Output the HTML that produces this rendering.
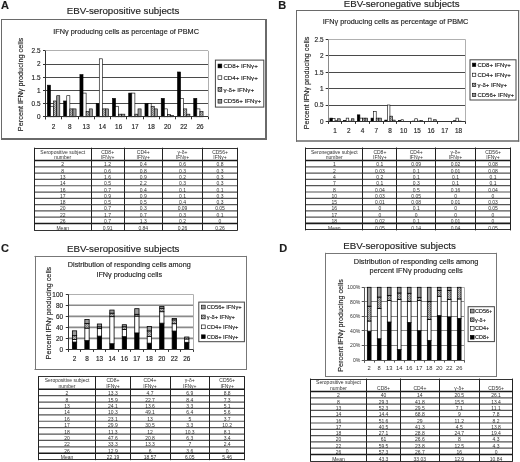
<!DOCTYPE html>
<html><head><meta charset="utf-8"><title>Figure</title>
<style>
html,body{margin:0;padding:0;background:#fff;}
body{width:520px;height:462px;overflow:hidden;}
svg{display:block;font-family:"Liberation Sans", sans-serif;filter:blur(0.3px);}
text{stroke:#222;stroke-width:0.15px;fill:#1e1e1e;}
text.tb{stroke:none;fill:#333;}
text.lt{stroke:none;fill:#333;}
</style></head><body>
<svg width="520" height="462" viewBox="0 0 520 462" font-family='Liberation Sans, sans-serif' fill="#000">
<defs>
<pattern id="gd" width="2" height="2" patternUnits="userSpaceOnUse">
<rect width="2" height="2" fill="#b8b8b8"/>
<rect width="1" height="1" fill="#7a7a7a"/>
<rect x="1" y="1" width="1" height="1" fill="#8c8c8c"/>
</pattern>
</defs>
<rect x="0" y="0" width="520" height="462" fill="#fff"/>
<text x="1" y="9.2" font-size="11" font-weight="bold">A</text>
<text x="123" y="14.1" font-size="9.74" text-anchor="middle">EBV-seropositive subjects</text>
<rect x="1.5" y="19.5" width="265.5" height="120.5" fill="#fff"/>
<line x1="1.5" y1="19" x2="1.5" y2="140" stroke="#6a6a6a" stroke-width="1"/>
<line x1="1" y1="19.5" x2="267" y2="19.5" stroke="#6a6a6a" stroke-width="1"/>
<line x1="266" y1="19" x2="266" y2="140" stroke="#6a6a6a" stroke-width="2"/>
<line x1="1" y1="139" x2="267" y2="139" stroke="#6a6a6a" stroke-width="2"/>
<text x="126.15" y="34.3" font-size="7.3" text-anchor="middle">IFNγ producing cells as percentage of PBMC</text>
<line x1="43" y1="116.5" x2="45.5" y2="116.5" stroke="#333" stroke-width="1"/>
<text x="40.5" y="119.1" font-size="6.4" text-anchor="end">0</text>
<line x1="45.5" y1="103.5" x2="208.1" y2="103.5" stroke="#4a4a4a" stroke-width="1"/>
<line x1="43" y1="103.5" x2="45.5" y2="103.5" stroke="#333" stroke-width="1"/>
<text x="40.5" y="105.92" font-size="6.4" text-anchor="end">0.5</text>
<line x1="45.5" y1="90.5" x2="208.1" y2="90.5" stroke="#4a4a4a" stroke-width="1"/>
<line x1="43" y1="90.5" x2="45.5" y2="90.5" stroke="#333" stroke-width="1"/>
<text x="40.5" y="92.74" font-size="6.4" text-anchor="end">1</text>
<line x1="45.5" y1="77.5" x2="208.1" y2="77.5" stroke="#4a4a4a" stroke-width="1"/>
<line x1="43" y1="77.5" x2="45.5" y2="77.5" stroke="#333" stroke-width="1"/>
<text x="40.5" y="79.56" font-size="6.4" text-anchor="end">1.5</text>
<line x1="45.5" y1="64.5" x2="208.1" y2="64.5" stroke="#4a4a4a" stroke-width="1"/>
<line x1="43" y1="64.5" x2="45.5" y2="64.5" stroke="#333" stroke-width="1"/>
<text x="40.5" y="66.38" font-size="6.4" text-anchor="end">2</text>
<line x1="45.5" y1="50.5" x2="208.1" y2="50.5" stroke="#b0b0b0" stroke-width="1"/>
<line x1="43" y1="50.5" x2="45.5" y2="50.5" stroke="#333" stroke-width="1"/>
<text x="40.5" y="53.2" font-size="6.4" text-anchor="end">2.5</text>
<line x1="208.5" y1="50.9" x2="208.5" y2="116.8" stroke="#b0b0b0" stroke-width="1"/>
<rect x="47.4" y="85.17" width="3.1" height="31.63" fill="#000" stroke="#000" stroke-width="0.6"/>
<rect x="50.5" y="106.26" width="3.1" height="10.54" fill="#fff" stroke="#000" stroke-width="0.6"/>
<rect x="53.6" y="100.98" width="3.1" height="15.82" fill="url(#gd)" stroke="#000" stroke-width="0.6"/>
<rect x="56.7" y="95.71" width="3.1" height="21.09" fill="#9a9a9a" stroke="#000" stroke-width="0.6"/>
<rect x="63.66" y="100.98" width="3.1" height="15.82" fill="#000" stroke="#000" stroke-width="0.6"/>
<rect x="66.76" y="95.71" width="3.1" height="21.09" fill="#fff" stroke="#000" stroke-width="0.6"/>
<rect x="69.86" y="108.89" width="3.1" height="7.91" fill="url(#gd)" stroke="#000" stroke-width="0.6"/>
<rect x="72.96" y="108.89" width="3.1" height="7.91" fill="#9a9a9a" stroke="#000" stroke-width="0.6"/>
<rect x="79.92" y="74.62" width="3.1" height="42.18" fill="#000" stroke="#000" stroke-width="0.6"/>
<rect x="83.02" y="93.08" width="3.1" height="23.72" fill="#fff" stroke="#000" stroke-width="0.6"/>
<rect x="86.12" y="111.53" width="3.1" height="5.27" fill="url(#gd)" stroke="#000" stroke-width="0.6"/>
<rect x="89.22" y="108.89" width="3.1" height="7.91" fill="#9a9a9a" stroke="#000" stroke-width="0.6"/>
<rect x="96.18" y="103.62" width="3.1" height="13.18" fill="#000" stroke="#000" stroke-width="0.6"/>
<rect x="99.28" y="58.81" width="3.1" height="57.99" fill="#fff" stroke="#000" stroke-width="0.6"/>
<rect x="102.38" y="108.89" width="3.1" height="7.91" fill="url(#gd)" stroke="#000" stroke-width="0.6"/>
<rect x="105.48" y="108.89" width="3.1" height="7.91" fill="#9a9a9a" stroke="#000" stroke-width="0.6"/>
<rect x="112.44" y="98.35" width="3.1" height="18.45" fill="#000" stroke="#000" stroke-width="0.6"/>
<rect x="115.54" y="106.26" width="3.1" height="10.54" fill="#fff" stroke="#000" stroke-width="0.6"/>
<rect x="118.64" y="114.16" width="3.1" height="2.64" fill="url(#gd)" stroke="#000" stroke-width="0.6"/>
<rect x="121.74" y="114.16" width="3.1" height="2.64" fill="#9a9a9a" stroke="#000" stroke-width="0.6"/>
<rect x="128.7" y="93.08" width="3.1" height="23.72" fill="#000" stroke="#000" stroke-width="0.6"/>
<rect x="131.8" y="93.08" width="3.1" height="23.72" fill="#fff" stroke="#000" stroke-width="0.6"/>
<rect x="134.9" y="114.16" width="3.1" height="2.64" fill="url(#gd)" stroke="#000" stroke-width="0.6"/>
<rect x="138" y="108.89" width="3.1" height="7.91" fill="#9a9a9a" stroke="#000" stroke-width="0.6"/>
<rect x="144.96" y="103.62" width="3.1" height="13.18" fill="#000" stroke="#000" stroke-width="0.6"/>
<rect x="148.06" y="103.62" width="3.1" height="13.18" fill="#fff" stroke="#000" stroke-width="0.6"/>
<rect x="151.16" y="106.26" width="3.1" height="10.54" fill="url(#gd)" stroke="#000" stroke-width="0.6"/>
<rect x="154.26" y="108.89" width="3.1" height="7.91" fill="#9a9a9a" stroke="#000" stroke-width="0.6"/>
<rect x="161.22" y="98.35" width="3.1" height="18.45" fill="#000" stroke="#000" stroke-width="0.6"/>
<rect x="164.32" y="108.89" width="3.1" height="7.91" fill="#fff" stroke="#000" stroke-width="0.6"/>
<rect x="167.42" y="114.43" width="3.1" height="2.37" fill="url(#gd)" stroke="#000" stroke-width="0.6"/>
<rect x="170.52" y="115.48" width="3.1" height="1.32" fill="#9a9a9a" stroke="#000" stroke-width="0.6"/>
<rect x="177.48" y="71.99" width="3.1" height="44.81" fill="#000" stroke="#000" stroke-width="0.6"/>
<rect x="180.58" y="98.35" width="3.1" height="18.45" fill="#fff" stroke="#000" stroke-width="0.6"/>
<rect x="183.68" y="108.89" width="3.1" height="7.91" fill="url(#gd)" stroke="#000" stroke-width="0.6"/>
<rect x="186.78" y="114.16" width="3.1" height="2.64" fill="#9a9a9a" stroke="#000" stroke-width="0.6"/>
<rect x="193.74" y="98.35" width="3.1" height="18.45" fill="#000" stroke="#000" stroke-width="0.6"/>
<rect x="196.84" y="108.89" width="3.1" height="7.91" fill="#fff" stroke="#000" stroke-width="0.6"/>
<rect x="199.94" y="111.53" width="3.1" height="5.27" fill="url(#gd)" stroke="#000" stroke-width="0.6"/>
<line x1="45.5" y1="50.9" x2="45.5" y2="119.3" stroke="#333" stroke-width="1"/>
<line x1="45.5" y1="116.5" x2="208.1" y2="116.5" stroke="#333" stroke-width="1"/>
<line x1="45.5" y1="116.8" x2="45.5" y2="119.3" stroke="#333" stroke-width="1"/>
<line x1="61.5" y1="116.8" x2="61.5" y2="119.3" stroke="#333" stroke-width="1"/>
<line x1="78.5" y1="116.8" x2="78.5" y2="119.3" stroke="#333" stroke-width="1"/>
<line x1="94.5" y1="116.8" x2="94.5" y2="119.3" stroke="#333" stroke-width="1"/>
<line x1="110.5" y1="116.8" x2="110.5" y2="119.3" stroke="#333" stroke-width="1"/>
<line x1="126.5" y1="116.8" x2="126.5" y2="119.3" stroke="#333" stroke-width="1"/>
<line x1="143.5" y1="116.8" x2="143.5" y2="119.3" stroke="#333" stroke-width="1"/>
<line x1="159.5" y1="116.8" x2="159.5" y2="119.3" stroke="#333" stroke-width="1"/>
<line x1="175.5" y1="116.8" x2="175.5" y2="119.3" stroke="#333" stroke-width="1"/>
<line x1="191.5" y1="116.8" x2="191.5" y2="119.3" stroke="#333" stroke-width="1"/>
<line x1="208.5" y1="116.8" x2="208.5" y2="119.3" stroke="#333" stroke-width="1"/>
<text x="53.63" y="128.8" font-size="6.4" text-anchor="middle">2</text>
<text x="69.89" y="128.8" font-size="6.4" text-anchor="middle">8</text>
<text x="86.15" y="128.8" font-size="6.4" text-anchor="middle">13</text>
<text x="102.41" y="128.8" font-size="6.4" text-anchor="middle">14</text>
<text x="118.67" y="128.8" font-size="6.4" text-anchor="middle">16</text>
<text x="134.93" y="128.8" font-size="6.4" text-anchor="middle">17</text>
<text x="151.19" y="128.8" font-size="6.4" text-anchor="middle">18</text>
<text x="167.45" y="128.8" font-size="6.4" text-anchor="middle">20</text>
<text x="183.71" y="128.8" font-size="6.4" text-anchor="middle">22</text>
<text x="199.97" y="128.8" font-size="6.4" text-anchor="middle">26</text>
<text x="22.8" y="84.5" font-size="7.3" text-anchor="middle" transform="rotate(-90 22.8 84.5)">Percent IFNγ producing cells</text>
<rect x="215.4" y="60.1" width="48.4" height="47" fill="#fff" stroke="#444" stroke-width="1"/>
<rect x="218" y="64.07" width="3.8" height="3.8" fill="#000" stroke="#000" stroke-width="0.6"/>
<text x="223.4" y="68.21" font-size="6.2">CD8+ IFNγ+</text>
<rect x="218" y="75.82" width="3.8" height="3.8" fill="#fff" stroke="#000" stroke-width="0.6"/>
<text x="223.4" y="79.96" font-size="6.2">CD4+ IFNγ+</text>
<rect x="218" y="87.57" width="3.8" height="3.8" fill="url(#gd)" stroke="#000" stroke-width="0.6"/>
<text x="223.4" y="91.71" font-size="6.2">γ-δ+ IFNγ+</text>
<rect x="218" y="99.32" width="3.8" height="3.8" fill="#9a9a9a" stroke="#000" stroke-width="0.6"/>
<text x="223.4" y="103.46" font-size="6.2">CD56+ IFNγ+</text>
<text x="278.3" y="9" font-size="11" font-weight="bold">B</text>
<text x="401.6" y="7.2" font-size="9.7" text-anchor="middle">EBV-seronegative subjects</text>
<rect x="296.6" y="10.5" width="222.6" height="131.3" fill="#fff"/>
<line x1="296.5" y1="10" x2="296.5" y2="141.8" stroke="#6a6a6a" stroke-width="1"/>
<line x1="296.1" y1="10.5" x2="519.2" y2="10.5" stroke="#6a6a6a" stroke-width="1"/>
<line x1="518.6" y1="10" x2="518.6" y2="141.8" stroke="#6a6a6a" stroke-width="1.2"/>
<line x1="296.1" y1="141" x2="519.2" y2="141" stroke="#6a6a6a" stroke-width="1.6"/>
<text x="395.6" y="23.6" font-size="7.3" text-anchor="middle">IFNγ producing cells as percentage of PBMC</text>
<line x1="325.7" y1="121.5" x2="328.2" y2="121.5" stroke="#333" stroke-width="1"/>
<text x="323.5" y="123.7" font-size="6.4" text-anchor="end">0</text>
<line x1="328.2" y1="105.5" x2="465.4" y2="105.5" stroke="#4a4a4a" stroke-width="1"/>
<line x1="325.7" y1="105.5" x2="328.2" y2="105.5" stroke="#333" stroke-width="1"/>
<text x="323.5" y="107.3" font-size="6.4" text-anchor="end">0.5</text>
<line x1="328.2" y1="88.5" x2="465.4" y2="88.5" stroke="#4a4a4a" stroke-width="1"/>
<line x1="325.7" y1="88.5" x2="328.2" y2="88.5" stroke="#333" stroke-width="1"/>
<text x="323.5" y="90.9" font-size="6.4" text-anchor="end">1</text>
<line x1="328.2" y1="72.5" x2="465.4" y2="72.5" stroke="#4a4a4a" stroke-width="1"/>
<line x1="325.7" y1="72.5" x2="328.2" y2="72.5" stroke="#333" stroke-width="1"/>
<text x="323.5" y="74.5" font-size="6.4" text-anchor="end">1.5</text>
<line x1="328.2" y1="55.5" x2="465.4" y2="55.5" stroke="#4a4a4a" stroke-width="1"/>
<line x1="325.7" y1="55.5" x2="328.2" y2="55.5" stroke="#333" stroke-width="1"/>
<text x="323.5" y="58.1" font-size="6.4" text-anchor="end">2</text>
<line x1="328.2" y1="39.5" x2="465.4" y2="39.5" stroke="#b0b0b0" stroke-width="1"/>
<line x1="325.7" y1="39.5" x2="328.2" y2="39.5" stroke="#333" stroke-width="1"/>
<text x="323.5" y="41.7" font-size="6.4" text-anchor="end">2.5</text>
<line x1="465.5" y1="39.4" x2="465.5" y2="121.4" stroke="#b0b0b0" stroke-width="1"/>
<rect x="329.85" y="118.12" width="2.6" height="3.28" fill="#000" stroke="#000" stroke-width="0.6"/>
<rect x="332.45" y="118.45" width="2.6" height="2.95" fill="#fff" stroke="#000" stroke-width="0.6"/>
<rect x="335.05" y="120.74" width="2.6" height="0.66" fill="url(#gd)" stroke="#000" stroke-width="0.6"/>
<rect x="337.65" y="118.78" width="2.6" height="2.62" fill="#9a9a9a" stroke="#000" stroke-width="0.6"/>
<rect x="343.57" y="120.42" width="2.6" height="0.98" fill="#000" stroke="#000" stroke-width="0.6"/>
<rect x="346.17" y="118.12" width="2.6" height="3.28" fill="#fff" stroke="#000" stroke-width="0.6"/>
<rect x="348.77" y="121.07" width="2.6" height="0.33" fill="url(#gd)" stroke="#000" stroke-width="0.6"/>
<rect x="351.37" y="118.78" width="2.6" height="2.62" fill="#9a9a9a" stroke="#000" stroke-width="0.6"/>
<rect x="357.29" y="114.84" width="2.6" height="6.56" fill="#000" stroke="#000" stroke-width="0.6"/>
<rect x="359.89" y="118.12" width="2.6" height="3.28" fill="#fff" stroke="#000" stroke-width="0.6"/>
<rect x="362.49" y="118.12" width="2.6" height="3.28" fill="url(#gd)" stroke="#000" stroke-width="0.6"/>
<rect x="365.09" y="118.12" width="2.6" height="3.28" fill="#9a9a9a" stroke="#000" stroke-width="0.6"/>
<rect x="371.01" y="118.12" width="2.6" height="3.28" fill="#000" stroke="#000" stroke-width="0.6"/>
<rect x="373.61" y="111.56" width="2.6" height="9.84" fill="#fff" stroke="#000" stroke-width="0.6"/>
<rect x="376.21" y="118.12" width="2.6" height="3.28" fill="url(#gd)" stroke="#000" stroke-width="0.6"/>
<rect x="378.81" y="118.12" width="2.6" height="3.28" fill="#9a9a9a" stroke="#000" stroke-width="0.6"/>
<rect x="384.73" y="120.09" width="2.6" height="1.31" fill="#000" stroke="#000" stroke-width="0.6"/>
<rect x="387.33" y="105" width="2.6" height="16.4" fill="#fff" stroke="#000" stroke-width="0.6"/>
<rect x="389.93" y="116.15" width="2.6" height="5.25" fill="url(#gd)" stroke="#000" stroke-width="0.6"/>
<rect x="392.53" y="120.09" width="2.6" height="1.31" fill="#9a9a9a" stroke="#000" stroke-width="0.6"/>
<rect x="398.45" y="120.42" width="2.6" height="0.98" fill="#000" stroke="#000" stroke-width="0.6"/>
<rect x="401.05" y="119.76" width="2.6" height="1.64" fill="#fff" stroke="#000" stroke-width="0.6"/>
<rect x="412.17" y="121.07" width="2.6" height="0.33" fill="#000" stroke="#000" stroke-width="0.6"/>
<rect x="414.77" y="118.78" width="2.6" height="2.62" fill="#fff" stroke="#000" stroke-width="0.6"/>
<rect x="417.37" y="121.07" width="2.6" height="0.33" fill="url(#gd)" stroke="#000" stroke-width="0.6"/>
<rect x="419.97" y="120.42" width="2.6" height="0.98" fill="#9a9a9a" stroke="#000" stroke-width="0.6"/>
<rect x="428.49" y="118.12" width="2.6" height="3.28" fill="#fff" stroke="#000" stroke-width="0.6"/>
<rect x="433.69" y="119.76" width="2.6" height="1.64" fill="#9a9a9a" stroke="#000" stroke-width="0.6"/>
<rect x="453.33" y="120.74" width="2.6" height="0.66" fill="#000" stroke="#000" stroke-width="0.6"/>
<rect x="455.93" y="118.12" width="2.6" height="3.28" fill="#fff" stroke="#000" stroke-width="0.6"/>
<rect x="458.53" y="121.07" width="2.6" height="0.33" fill="url(#gd)" stroke="#000" stroke-width="0.6"/>
<line x1="328.5" y1="39.4" x2="328.5" y2="123.9" stroke="#8a8a8a" stroke-width="1"/>
<line x1="328.2" y1="121.5" x2="465.4" y2="121.5" stroke="#333" stroke-width="1"/>
<line x1="328.5" y1="121.4" x2="328.5" y2="123.9" stroke="#333" stroke-width="1"/>
<line x1="341.5" y1="121.4" x2="341.5" y2="123.9" stroke="#333" stroke-width="1"/>
<line x1="355.5" y1="121.4" x2="355.5" y2="123.9" stroke="#333" stroke-width="1"/>
<line x1="369.5" y1="121.4" x2="369.5" y2="123.9" stroke="#333" stroke-width="1"/>
<line x1="383.5" y1="121.4" x2="383.5" y2="123.9" stroke="#333" stroke-width="1"/>
<line x1="396.5" y1="121.4" x2="396.5" y2="123.9" stroke="#333" stroke-width="1"/>
<line x1="410.5" y1="121.4" x2="410.5" y2="123.9" stroke="#333" stroke-width="1"/>
<line x1="424.5" y1="121.4" x2="424.5" y2="123.9" stroke="#333" stroke-width="1"/>
<line x1="437.5" y1="121.4" x2="437.5" y2="123.9" stroke="#333" stroke-width="1"/>
<line x1="451.5" y1="121.4" x2="451.5" y2="123.9" stroke="#333" stroke-width="1"/>
<line x1="465.5" y1="121.4" x2="465.5" y2="123.9" stroke="#333" stroke-width="1"/>
<text x="335.06" y="133.2" font-size="6.4" text-anchor="middle">1</text>
<text x="348.78" y="133.2" font-size="6.4" text-anchor="middle">2</text>
<text x="362.5" y="133.2" font-size="6.4" text-anchor="middle">4</text>
<text x="376.22" y="133.2" font-size="6.4" text-anchor="middle">7</text>
<text x="389.94" y="133.2" font-size="6.4" text-anchor="middle">8</text>
<text x="403.66" y="133.2" font-size="6.4" text-anchor="middle">10</text>
<text x="417.38" y="133.2" font-size="6.4" text-anchor="middle">15</text>
<text x="431.1" y="133.2" font-size="6.4" text-anchor="middle">16</text>
<text x="444.82" y="133.2" font-size="6.4" text-anchor="middle">17</text>
<text x="458.54" y="133.2" font-size="6.4" text-anchor="middle">18</text>
<text x="309.2" y="83" font-size="7.25" text-anchor="middle" transform="rotate(-90 309.2 83)">Percent IFNγ producing cells</text>
<rect x="470" y="59.8" width="46" height="40.2" fill="#fff" stroke="#444" stroke-width="1"/>
<rect x="472.4" y="63.12" width="3.4" height="3.4" fill="#000" stroke="#000" stroke-width="0.6"/>
<text x="477.4" y="66.98" font-size="6">CD8+ IFNγ+</text>
<rect x="472.4" y="73.17" width="3.4" height="3.4" fill="#fff" stroke="#000" stroke-width="0.6"/>
<text x="477.4" y="77.03" font-size="6">CD4+ IFNγ+</text>
<rect x="472.4" y="83.22" width="3.4" height="3.4" fill="url(#gd)" stroke="#000" stroke-width="0.6"/>
<text x="477.4" y="87.08" font-size="6">γ-δ+ IFNγ+</text>
<rect x="472.4" y="93.27" width="3.4" height="3.4" fill="#9a9a9a" stroke="#000" stroke-width="0.6"/>
<text x="477.4" y="97.13" font-size="6">CD56+ IFNγ+</text>
<rect x="34.2" y="147.7" width="203.3" height="82.8" fill="#fff"/>
<line x1="34.2" y1="148.5" x2="237.5" y2="148.5" stroke="#333" stroke-width="1"/>
<line x1="34.2" y1="160.6" x2="237.5" y2="160.6" stroke="#1a1a1a" stroke-width="1.5"/>
<line x1="34.2" y1="166.89" x2="237.5" y2="166.89" stroke="#555" stroke-width="1.2"/>
<line x1="34.2" y1="173.18" x2="237.5" y2="173.18" stroke="#555" stroke-width="1.2"/>
<line x1="34.2" y1="179.47" x2="237.5" y2="179.47" stroke="#555" stroke-width="1.2"/>
<line x1="34.2" y1="185.76" x2="237.5" y2="185.76" stroke="#555" stroke-width="1.2"/>
<line x1="34.2" y1="192.05" x2="237.5" y2="192.05" stroke="#555" stroke-width="1.2"/>
<line x1="34.2" y1="198.34" x2="237.5" y2="198.34" stroke="#555" stroke-width="1.2"/>
<line x1="34.2" y1="204.63" x2="237.5" y2="204.63" stroke="#555" stroke-width="1.2"/>
<line x1="34.2" y1="210.92" x2="237.5" y2="210.92" stroke="#555" stroke-width="1.2"/>
<line x1="34.2" y1="217.21" x2="237.5" y2="217.21" stroke="#555" stroke-width="1.2"/>
<line x1="34.2" y1="223.5" x2="237.5" y2="223.5" stroke="#1a1a1a" stroke-width="1.6"/>
<line x1="34.2" y1="230.5" x2="237.5" y2="230.5" stroke="#333" stroke-width="1"/>
<line x1="34.5" y1="147.7" x2="34.5" y2="230.5" stroke="#222" stroke-width="1"/>
<line x1="91.5" y1="147.7" x2="91.5" y2="230.5" stroke="#222" stroke-width="1"/>
<line x1="124.5" y1="147.7" x2="124.5" y2="230.5" stroke="#222" stroke-width="1"/>
<line x1="162.5" y1="147.7" x2="162.5" y2="230.5" stroke="#222" stroke-width="1"/>
<line x1="202.5" y1="147.7" x2="202.5" y2="230.5" stroke="#222" stroke-width="1"/>
<line x1="237.5" y1="147.7" x2="237.5" y2="230.5" stroke="#222" stroke-width="1"/>
<text x="62.7" y="153.7" font-size="5" text-anchor="middle" fill="#333" class="tb">Seropositive subject</text>
<text x="62.7" y="159.2" font-size="5" text-anchor="middle" fill="#333" class="tb">number</text>
<text x="107.6" y="153.7" font-size="5" text-anchor="middle" fill="#333" class="tb">CD8+</text>
<text x="107.6" y="159.2" font-size="5" text-anchor="middle" fill="#333" class="tb">IFNγ+</text>
<text x="143.25" y="153.7" font-size="5" text-anchor="middle" fill="#333" class="tb">CD4+</text>
<text x="143.25" y="159.2" font-size="5" text-anchor="middle" fill="#333" class="tb">IFNγ+</text>
<text x="182.5" y="153.7" font-size="5" text-anchor="middle" fill="#333" class="tb">γ-δ+</text>
<text x="182.5" y="159.2" font-size="5" text-anchor="middle" fill="#333" class="tb">IFNγ+</text>
<text x="220" y="153.7" font-size="5" text-anchor="middle" fill="#333" class="tb">CD56+</text>
<text x="220" y="159.2" font-size="5" text-anchor="middle" fill="#333" class="tb">IFNγ+</text>
<text x="62.7" y="166.39" font-size="5" text-anchor="middle" fill="#333" class="tb">2</text>
<text x="107.6" y="166.39" font-size="5" text-anchor="middle" fill="#333" class="tb">1.2</text>
<text x="143.25" y="166.39" font-size="5" text-anchor="middle" fill="#333" class="tb">0.4</text>
<text x="182.5" y="166.39" font-size="5" text-anchor="middle" fill="#333" class="tb">0.6</text>
<text x="220" y="166.39" font-size="5" text-anchor="middle" fill="#333" class="tb">0.8</text>
<text x="62.7" y="172.68" font-size="5" text-anchor="middle" fill="#333" class="tb">8</text>
<text x="107.6" y="172.68" font-size="5" text-anchor="middle" fill="#333" class="tb">0.6</text>
<text x="143.25" y="172.68" font-size="5" text-anchor="middle" fill="#333" class="tb">0.8</text>
<text x="182.5" y="172.68" font-size="5" text-anchor="middle" fill="#333" class="tb">0.3</text>
<text x="220" y="172.68" font-size="5" text-anchor="middle" fill="#333" class="tb">0.3</text>
<text x="62.7" y="178.97" font-size="5" text-anchor="middle" fill="#333" class="tb">13</text>
<text x="107.6" y="178.97" font-size="5" text-anchor="middle" fill="#333" class="tb">1.6</text>
<text x="143.25" y="178.97" font-size="5" text-anchor="middle" fill="#333" class="tb">0.9</text>
<text x="182.5" y="178.97" font-size="5" text-anchor="middle" fill="#333" class="tb">0.2</text>
<text x="220" y="178.97" font-size="5" text-anchor="middle" fill="#333" class="tb">0.3</text>
<text x="62.7" y="185.26" font-size="5" text-anchor="middle" fill="#333" class="tb">14</text>
<text x="107.6" y="185.26" font-size="5" text-anchor="middle" fill="#333" class="tb">0.5</text>
<text x="143.25" y="185.26" font-size="5" text-anchor="middle" fill="#333" class="tb">2.2</text>
<text x="182.5" y="185.26" font-size="5" text-anchor="middle" fill="#333" class="tb">0.3</text>
<text x="220" y="185.26" font-size="5" text-anchor="middle" fill="#333" class="tb">0.3</text>
<text x="62.7" y="191.55" font-size="5" text-anchor="middle" fill="#333" class="tb">16</text>
<text x="107.6" y="191.55" font-size="5" text-anchor="middle" fill="#333" class="tb">0.7</text>
<text x="143.25" y="191.55" font-size="5" text-anchor="middle" fill="#333" class="tb">0.4</text>
<text x="182.5" y="191.55" font-size="5" text-anchor="middle" fill="#333" class="tb">0.1</text>
<text x="220" y="191.55" font-size="5" text-anchor="middle" fill="#333" class="tb">0.1</text>
<text x="62.7" y="197.84" font-size="5" text-anchor="middle" fill="#333" class="tb">17</text>
<text x="107.6" y="197.84" font-size="5" text-anchor="middle" fill="#333" class="tb">0.9</text>
<text x="143.25" y="197.84" font-size="5" text-anchor="middle" fill="#333" class="tb">0.9</text>
<text x="182.5" y="197.84" font-size="5" text-anchor="middle" fill="#333" class="tb">0.1</text>
<text x="220" y="197.84" font-size="5" text-anchor="middle" fill="#333" class="tb">0.3</text>
<text x="62.7" y="204.13" font-size="5" text-anchor="middle" fill="#333" class="tb">18</text>
<text x="107.6" y="204.13" font-size="5" text-anchor="middle" fill="#333" class="tb">0.5</text>
<text x="143.25" y="204.13" font-size="5" text-anchor="middle" fill="#333" class="tb">0.5</text>
<text x="182.5" y="204.13" font-size="5" text-anchor="middle" fill="#333" class="tb">0.4</text>
<text x="220" y="204.13" font-size="5" text-anchor="middle" fill="#333" class="tb">0.3</text>
<text x="62.7" y="210.42" font-size="5" text-anchor="middle" fill="#333" class="tb">20</text>
<text x="107.6" y="210.42" font-size="5" text-anchor="middle" fill="#333" class="tb">0.7</text>
<text x="143.25" y="210.42" font-size="5" text-anchor="middle" fill="#333" class="tb">0.3</text>
<text x="182.5" y="210.42" font-size="5" text-anchor="middle" fill="#333" class="tb">0.09</text>
<text x="220" y="210.42" font-size="5" text-anchor="middle" fill="#333" class="tb">0.05</text>
<text x="62.7" y="216.71" font-size="5" text-anchor="middle" fill="#333" class="tb">22</text>
<text x="107.6" y="216.71" font-size="5" text-anchor="middle" fill="#333" class="tb">1.7</text>
<text x="143.25" y="216.71" font-size="5" text-anchor="middle" fill="#333" class="tb">0.7</text>
<text x="182.5" y="216.71" font-size="5" text-anchor="middle" fill="#333" class="tb">0.3</text>
<text x="220" y="216.71" font-size="5" text-anchor="middle" fill="#333" class="tb">0.1</text>
<text x="62.7" y="223" font-size="5" text-anchor="middle" fill="#333" class="tb">26</text>
<text x="107.6" y="223" font-size="5" text-anchor="middle" fill="#333" class="tb">0.7</text>
<text x="143.25" y="223" font-size="5" text-anchor="middle" fill="#333" class="tb">1.3</text>
<text x="182.5" y="223" font-size="5" text-anchor="middle" fill="#333" class="tb">0.2</text>
<text x="220" y="223" font-size="5" text-anchor="middle" fill="#333" class="tb">0</text>
<text x="62.7" y="229.6" font-size="5" text-anchor="middle" fill="#333" class="tb">Mean</text>
<text x="107.6" y="229.6" font-size="5" text-anchor="middle" fill="#333" class="tb">0.91</text>
<text x="143.25" y="229.6" font-size="5" text-anchor="middle" fill="#333" class="tb">0.84</text>
<text x="182.5" y="229.6" font-size="5" text-anchor="middle" fill="#333" class="tb">0.26</text>
<text x="220" y="229.6" font-size="5" text-anchor="middle" fill="#333" class="tb">0.26</text>
<rect x="305.8" y="147.5" width="204.6" height="82.9" fill="#fff"/>
<line x1="305.8" y1="148.5" x2="510.4" y2="148.5" stroke="#333" stroke-width="1"/>
<line x1="305.8" y1="160.6" x2="510.4" y2="160.6" stroke="#1a1a1a" stroke-width="1.5"/>
<line x1="305.8" y1="166.88" x2="510.4" y2="166.88" stroke="#555" stroke-width="1.2"/>
<line x1="305.8" y1="173.16" x2="510.4" y2="173.16" stroke="#555" stroke-width="1.2"/>
<line x1="305.8" y1="179.44" x2="510.4" y2="179.44" stroke="#555" stroke-width="1.2"/>
<line x1="305.8" y1="185.72" x2="510.4" y2="185.72" stroke="#555" stroke-width="1.2"/>
<line x1="305.8" y1="192" x2="510.4" y2="192" stroke="#555" stroke-width="1.2"/>
<line x1="305.8" y1="198.28" x2="510.4" y2="198.28" stroke="#555" stroke-width="1.2"/>
<line x1="305.8" y1="204.56" x2="510.4" y2="204.56" stroke="#555" stroke-width="1.2"/>
<line x1="305.8" y1="210.84" x2="510.4" y2="210.84" stroke="#555" stroke-width="1.2"/>
<line x1="305.8" y1="217.12" x2="510.4" y2="217.12" stroke="#555" stroke-width="1.2"/>
<line x1="305.8" y1="223.4" x2="510.4" y2="223.4" stroke="#1a1a1a" stroke-width="1.6"/>
<line x1="305.8" y1="229.5" x2="510.4" y2="229.5" stroke="#333" stroke-width="1"/>
<line x1="305.5" y1="147.5" x2="305.5" y2="230.4" stroke="#222" stroke-width="1"/>
<line x1="362.5" y1="147.5" x2="362.5" y2="230.4" stroke="#222" stroke-width="1"/>
<line x1="396.5" y1="147.5" x2="396.5" y2="230.4" stroke="#222" stroke-width="1"/>
<line x1="435.5" y1="147.5" x2="435.5" y2="230.4" stroke="#222" stroke-width="1"/>
<line x1="475.5" y1="147.5" x2="475.5" y2="230.4" stroke="#222" stroke-width="1"/>
<line x1="510.5" y1="147.5" x2="510.5" y2="230.4" stroke="#222" stroke-width="1"/>
<text x="334.3" y="153.5" font-size="5" text-anchor="middle" fill="#333" class="tb">Seronegative subject</text>
<text x="334.3" y="159" font-size="5" text-anchor="middle" fill="#333" class="tb">number</text>
<text x="379.85" y="153.5" font-size="5" text-anchor="middle" fill="#333" class="tb">CD8+</text>
<text x="379.85" y="159" font-size="5" text-anchor="middle" fill="#333" class="tb">IFNγ+</text>
<text x="416.2" y="153.5" font-size="5" text-anchor="middle" fill="#333" class="tb">CD4+</text>
<text x="416.2" y="159" font-size="5" text-anchor="middle" fill="#333" class="tb">IFNγ+</text>
<text x="455.55" y="153.5" font-size="5" text-anchor="middle" fill="#333" class="tb">γ-δ+</text>
<text x="455.55" y="159" font-size="5" text-anchor="middle" fill="#333" class="tb">IFNγ+</text>
<text x="493" y="153.5" font-size="5" text-anchor="middle" fill="#333" class="tb">CD56+</text>
<text x="493" y="159" font-size="5" text-anchor="middle" fill="#333" class="tb">IFNγ+</text>
<text x="334.3" y="166.38" font-size="5" text-anchor="middle" fill="#333" class="tb">1</text>
<text x="379.85" y="166.38" font-size="5" text-anchor="middle" fill="#333" class="tb">0.1</text>
<text x="416.2" y="166.38" font-size="5" text-anchor="middle" fill="#333" class="tb">0.09</text>
<text x="455.55" y="166.38" font-size="5" text-anchor="middle" fill="#333" class="tb">0.02</text>
<text x="493" y="166.38" font-size="5" text-anchor="middle" fill="#333" class="tb">0.08</text>
<text x="334.3" y="172.66" font-size="5" text-anchor="middle" fill="#333" class="tb">2</text>
<text x="379.85" y="172.66" font-size="5" text-anchor="middle" fill="#333" class="tb">0.03</text>
<text x="416.2" y="172.66" font-size="5" text-anchor="middle" fill="#333" class="tb">0.1</text>
<text x="455.55" y="172.66" font-size="5" text-anchor="middle" fill="#333" class="tb">0.01</text>
<text x="493" y="172.66" font-size="5" text-anchor="middle" fill="#333" class="tb">0.08</text>
<text x="334.3" y="178.94" font-size="5" text-anchor="middle" fill="#333" class="tb">4</text>
<text x="379.85" y="178.94" font-size="5" text-anchor="middle" fill="#333" class="tb">0.2</text>
<text x="416.2" y="178.94" font-size="5" text-anchor="middle" fill="#333" class="tb">0.1</text>
<text x="455.55" y="178.94" font-size="5" text-anchor="middle" fill="#333" class="tb">0.1</text>
<text x="493" y="178.94" font-size="5" text-anchor="middle" fill="#333" class="tb">0.1</text>
<text x="334.3" y="185.22" font-size="5" text-anchor="middle" fill="#333" class="tb">7</text>
<text x="379.85" y="185.22" font-size="5" text-anchor="middle" fill="#333" class="tb">0.1</text>
<text x="416.2" y="185.22" font-size="5" text-anchor="middle" fill="#333" class="tb">0.3</text>
<text x="455.55" y="185.22" font-size="5" text-anchor="middle" fill="#333" class="tb">0.1</text>
<text x="493" y="185.22" font-size="5" text-anchor="middle" fill="#333" class="tb">0.1</text>
<text x="334.3" y="191.5" font-size="5" text-anchor="middle" fill="#333" class="tb">8</text>
<text x="379.85" y="191.5" font-size="5" text-anchor="middle" fill="#333" class="tb">0.04</text>
<text x="416.2" y="191.5" font-size="5" text-anchor="middle" fill="#333" class="tb">0.5</text>
<text x="455.55" y="191.5" font-size="5" text-anchor="middle" fill="#333" class="tb">0.16</text>
<text x="493" y="191.5" font-size="5" text-anchor="middle" fill="#333" class="tb">0.04</text>
<text x="334.3" y="197.78" font-size="5" text-anchor="middle" fill="#333" class="tb">10</text>
<text x="379.85" y="197.78" font-size="5" text-anchor="middle" fill="#333" class="tb">0.03</text>
<text x="416.2" y="197.78" font-size="5" text-anchor="middle" fill="#333" class="tb">0.05</text>
<text x="455.55" y="197.78" font-size="5" text-anchor="middle" fill="#333" class="tb">0</text>
<text x="493" y="197.78" font-size="5" text-anchor="middle" fill="#333" class="tb">0</text>
<text x="334.3" y="204.06" font-size="5" text-anchor="middle" fill="#333" class="tb">15</text>
<text x="379.85" y="204.06" font-size="5" text-anchor="middle" fill="#333" class="tb">0.01</text>
<text x="416.2" y="204.06" font-size="5" text-anchor="middle" fill="#333" class="tb">0.08</text>
<text x="455.55" y="204.06" font-size="5" text-anchor="middle" fill="#333" class="tb">0.01</text>
<text x="493" y="204.06" font-size="5" text-anchor="middle" fill="#333" class="tb">0.03</text>
<text x="334.3" y="210.34" font-size="5" text-anchor="middle" fill="#333" class="tb">16</text>
<text x="379.85" y="210.34" font-size="5" text-anchor="middle" fill="#333" class="tb">0</text>
<text x="416.2" y="210.34" font-size="5" text-anchor="middle" fill="#333" class="tb">0.1</text>
<text x="455.55" y="210.34" font-size="5" text-anchor="middle" fill="#333" class="tb">0</text>
<text x="493" y="210.34" font-size="5" text-anchor="middle" fill="#333" class="tb">0.05</text>
<text x="334.3" y="216.62" font-size="5" text-anchor="middle" fill="#333" class="tb">17</text>
<text x="379.85" y="216.62" font-size="5" text-anchor="middle" fill="#333" class="tb">0</text>
<text x="416.2" y="216.62" font-size="5" text-anchor="middle" fill="#333" class="tb">0</text>
<text x="455.55" y="216.62" font-size="5" text-anchor="middle" fill="#333" class="tb">0</text>
<text x="493" y="216.62" font-size="5" text-anchor="middle" fill="#333" class="tb">0</text>
<text x="334.3" y="222.9" font-size="5" text-anchor="middle" fill="#333" class="tb">18</text>
<text x="379.85" y="222.9" font-size="5" text-anchor="middle" fill="#333" class="tb">0.02</text>
<text x="416.2" y="222.9" font-size="5" text-anchor="middle" fill="#333" class="tb">0.1</text>
<text x="455.55" y="222.9" font-size="5" text-anchor="middle" fill="#333" class="tb">0.01</text>
<text x="493" y="222.9" font-size="5" text-anchor="middle" fill="#333" class="tb">0</text>
<text x="334.3" y="229.5" font-size="5" text-anchor="middle" fill="#333" class="tb">Mean</text>
<text x="379.85" y="229.5" font-size="5" text-anchor="middle" fill="#333" class="tb">0.05</text>
<text x="416.2" y="229.5" font-size="5" text-anchor="middle" fill="#333" class="tb">0.14</text>
<text x="455.55" y="229.5" font-size="5" text-anchor="middle" fill="#333" class="tb">0.04</text>
<text x="493" y="229.5" font-size="5" text-anchor="middle" fill="#333" class="tb">0.05</text>
<text x="0.9" y="251.5" font-size="11" font-weight="bold">C</text>
<text x="123.2" y="251.5" font-size="9.74" text-anchor="middle">EBV-seropositive subjects</text>
<rect x="35" y="256.4" width="212" height="113.6" fill="#fff"/>
<line x1="35.5" y1="255.9" x2="35.5" y2="370" stroke="#777" stroke-width="1"/>
<line x1="34.5" y1="256.5" x2="247" y2="256.5" stroke="#777" stroke-width="1"/>
<line x1="246.5" y1="255.9" x2="246.5" y2="370" stroke="#777" stroke-width="1"/>
<line x1="34.5" y1="369.5" x2="247" y2="369.5" stroke="#777" stroke-width="1"/>
<text x="129.25" y="267.3" font-size="7.25" text-anchor="middle">Distribution of responding cells among</text>
<text x="129.25" y="276.8" font-size="7.25" text-anchor="middle">IFNγ producing cells</text>
<line x1="65.8" y1="349.5" x2="68.3" y2="349.5" stroke="#333" stroke-width="1"/>
<text x="63" y="351.7" font-size="6.4" text-anchor="end">0</text>
<line x1="68.3" y1="338.38" x2="193" y2="338.38" stroke="#8a8a8a" stroke-width="1.6"/>
<line x1="65.8" y1="338.5" x2="68.3" y2="338.5" stroke="#333" stroke-width="1"/>
<text x="63" y="340.68" font-size="6.4" text-anchor="end">20</text>
<line x1="68.3" y1="327.36" x2="193" y2="327.36" stroke="#8a8a8a" stroke-width="1.6"/>
<line x1="65.8" y1="327.5" x2="68.3" y2="327.5" stroke="#333" stroke-width="1"/>
<text x="63" y="329.66" font-size="6.4" text-anchor="end">40</text>
<line x1="68.3" y1="316.34" x2="193" y2="316.34" stroke="#8a8a8a" stroke-width="1.6"/>
<line x1="65.8" y1="316.5" x2="68.3" y2="316.5" stroke="#333" stroke-width="1"/>
<text x="63" y="318.64" font-size="6.4" text-anchor="end">60</text>
<line x1="68.3" y1="305.32" x2="193" y2="305.32" stroke="#8a8a8a" stroke-width="1.6"/>
<line x1="65.8" y1="305.5" x2="68.3" y2="305.5" stroke="#333" stroke-width="1"/>
<text x="63" y="307.62" font-size="6.4" text-anchor="end">80</text>
<line x1="68.3" y1="294.5" x2="193" y2="294.5" stroke="#b0b0b0" stroke-width="1"/>
<line x1="65.8" y1="294.5" x2="68.3" y2="294.5" stroke="#333" stroke-width="1"/>
<text x="63" y="296.6" font-size="6.4" text-anchor="end">100</text>
<line x1="193.5" y1="294.3" x2="193.5" y2="349.4" stroke="#b0b0b0" stroke-width="1"/>
<rect x="72.38" y="342.07" width="4.3" height="7.33" fill="#000" stroke="#000" stroke-width="0.8"/>
<rect x="72.38" y="339.48" width="4.3" height="2.59" fill="#fff" stroke="#000" stroke-width="0.8"/>
<rect x="72.38" y="335.68" width="4.3" height="3.8" fill="url(#gd)" stroke="#000" stroke-width="0.8"/>
<rect x="72.38" y="330.83" width="4.3" height="4.85" fill="#9a9a9a" stroke="#000" stroke-width="0.8"/>
<rect x="84.85" y="340.64" width="4.3" height="8.76" fill="#000" stroke="#000" stroke-width="0.8"/>
<rect x="84.85" y="328.13" width="4.3" height="12.51" fill="#fff" stroke="#000" stroke-width="0.8"/>
<rect x="84.85" y="323.5" width="4.3" height="4.63" fill="url(#gd)" stroke="#000" stroke-width="0.8"/>
<rect x="84.85" y="319.48" width="4.3" height="4.02" fill="#9a9a9a" stroke="#000" stroke-width="0.8"/>
<rect x="97.32" y="336.12" width="4.3" height="13.28" fill="#000" stroke="#000" stroke-width="0.8"/>
<rect x="97.32" y="328.63" width="4.3" height="7.49" fill="#fff" stroke="#000" stroke-width="0.8"/>
<rect x="97.32" y="326.81" width="4.3" height="1.82" fill="url(#gd)" stroke="#000" stroke-width="0.8"/>
<rect x="97.32" y="324" width="4.3" height="2.81" fill="#9a9a9a" stroke="#000" stroke-width="0.8"/>
<rect x="109.79" y="343.72" width="4.3" height="5.68" fill="#000" stroke="#000" stroke-width="0.8"/>
<rect x="109.79" y="316.67" width="4.3" height="27.05" fill="#fff" stroke="#000" stroke-width="0.8"/>
<rect x="109.79" y="313.14" width="4.3" height="3.53" fill="url(#gd)" stroke="#000" stroke-width="0.8"/>
<rect x="109.79" y="310.06" width="4.3" height="3.09" fill="#9a9a9a" stroke="#000" stroke-width="0.8"/>
<rect x="122.26" y="336.67" width="4.3" height="12.73" fill="#000" stroke="#000" stroke-width="0.8"/>
<rect x="122.26" y="329.51" width="4.3" height="7.16" fill="#fff" stroke="#000" stroke-width="0.8"/>
<rect x="122.26" y="326.75" width="4.3" height="2.75" fill="url(#gd)" stroke="#000" stroke-width="0.8"/>
<rect x="122.26" y="324.72" width="4.3" height="2.04" fill="#9a9a9a" stroke="#000" stroke-width="0.8"/>
<rect x="134.73" y="332.93" width="4.3" height="16.47" fill="#000" stroke="#000" stroke-width="0.8"/>
<rect x="134.73" y="316.12" width="4.3" height="16.81" fill="#fff" stroke="#000" stroke-width="0.8"/>
<rect x="134.73" y="314.3" width="4.3" height="1.82" fill="url(#gd)" stroke="#000" stroke-width="0.8"/>
<rect x="134.73" y="308.68" width="4.3" height="5.62" fill="#9a9a9a" stroke="#000" stroke-width="0.8"/>
<rect x="147.21" y="343.17" width="4.3" height="6.23" fill="#000" stroke="#000" stroke-width="0.8"/>
<rect x="147.21" y="336.56" width="4.3" height="6.61" fill="#fff" stroke="#000" stroke-width="0.8"/>
<rect x="147.21" y="330.89" width="4.3" height="5.68" fill="url(#gd)" stroke="#000" stroke-width="0.8"/>
<rect x="147.21" y="326.42" width="4.3" height="4.46" fill="#9a9a9a" stroke="#000" stroke-width="0.8"/>
<rect x="159.67" y="323.17" width="4.3" height="26.23" fill="#000" stroke="#000" stroke-width="0.8"/>
<rect x="159.67" y="311.71" width="4.3" height="11.46" fill="#fff" stroke="#000" stroke-width="0.8"/>
<rect x="159.67" y="308.24" width="4.3" height="3.47" fill="url(#gd)" stroke="#000" stroke-width="0.8"/>
<rect x="159.67" y="306.37" width="4.3" height="1.87" fill="#9a9a9a" stroke="#000" stroke-width="0.8"/>
<rect x="172.15" y="331.05" width="4.3" height="18.35" fill="#000" stroke="#000" stroke-width="0.8"/>
<rect x="172.15" y="323.72" width="4.3" height="7.33" fill="#fff" stroke="#000" stroke-width="0.8"/>
<rect x="172.15" y="319.87" width="4.3" height="3.86" fill="url(#gd)" stroke="#000" stroke-width="0.8"/>
<rect x="172.15" y="318.54" width="4.3" height="1.32" fill="#9a9a9a" stroke="#000" stroke-width="0.8"/>
<rect x="184.61" y="342.29" width="4.3" height="7.11" fill="#000" stroke="#000" stroke-width="0.8"/>
<rect x="184.61" y="338.99" width="4.3" height="3.31" fill="#fff" stroke="#000" stroke-width="0.8"/>
<rect x="184.61" y="337" width="4.3" height="1.98" fill="url(#gd)" stroke="#000" stroke-width="0.8"/>
<line x1="68.5" y1="294.3" x2="68.5" y2="351.9" stroke="#333" stroke-width="1"/>
<line x1="68.3" y1="349.5" x2="193" y2="349.5" stroke="#333" stroke-width="1"/>
<line x1="68.5" y1="349.4" x2="68.5" y2="351.9" stroke="#333" stroke-width="1"/>
<line x1="80.5" y1="349.4" x2="80.5" y2="351.9" stroke="#333" stroke-width="1"/>
<line x1="93.5" y1="349.4" x2="93.5" y2="351.9" stroke="#333" stroke-width="1"/>
<line x1="105.5" y1="349.4" x2="105.5" y2="351.9" stroke="#333" stroke-width="1"/>
<line x1="118.5" y1="349.4" x2="118.5" y2="351.9" stroke="#333" stroke-width="1"/>
<line x1="130.5" y1="349.4" x2="130.5" y2="351.9" stroke="#333" stroke-width="1"/>
<line x1="143.5" y1="349.4" x2="143.5" y2="351.9" stroke="#333" stroke-width="1"/>
<line x1="155.5" y1="349.4" x2="155.5" y2="351.9" stroke="#333" stroke-width="1"/>
<line x1="168.5" y1="349.4" x2="168.5" y2="351.9" stroke="#333" stroke-width="1"/>
<line x1="180.5" y1="349.4" x2="180.5" y2="351.9" stroke="#333" stroke-width="1"/>
<line x1="193.5" y1="349.4" x2="193.5" y2="351.9" stroke="#333" stroke-width="1"/>
<text x="74.53" y="361.2" font-size="6.4" text-anchor="middle">2</text>
<text x="87" y="361.2" font-size="6.4" text-anchor="middle">8</text>
<text x="99.47" y="361.2" font-size="6.4" text-anchor="middle">13</text>
<text x="111.94" y="361.2" font-size="6.4" text-anchor="middle">14</text>
<text x="124.41" y="361.2" font-size="6.4" text-anchor="middle">16</text>
<text x="136.88" y="361.2" font-size="6.4" text-anchor="middle">17</text>
<text x="149.36" y="361.2" font-size="6.4" text-anchor="middle">18</text>
<text x="161.82" y="361.2" font-size="6.4" text-anchor="middle">20</text>
<text x="174.3" y="361.2" font-size="6.4" text-anchor="middle">22</text>
<text x="186.76" y="361.2" font-size="6.4" text-anchor="middle">26</text>
<text x="51.4" y="313.1" font-size="7.25" text-anchor="middle" transform="rotate(-90 51.4 313.1)">Percent IFNγ producing cells</text>
<rect x="198.8" y="302.1" width="45.6" height="39.6" fill="#fff" stroke="#444" stroke-width="1"/>
<rect x="201.4" y="305.15" width="3.8" height="3.8" fill="#9a9a9a" stroke="#000" stroke-width="0.6"/>
<text x="206.8" y="309.1" font-size="5.7">CD56+ IFNγ+</text>
<rect x="201.4" y="315.05" width="3.8" height="3.8" fill="url(#gd)" stroke="#000" stroke-width="0.6"/>
<text x="206.8" y="319" font-size="5.7">γ-δ+ IFNγ+</text>
<rect x="201.4" y="324.95" width="3.8" height="3.8" fill="#fff" stroke="#000" stroke-width="0.6"/>
<text x="206.8" y="328.9" font-size="5.7">CD4+ IFNγ+</text>
<rect x="201.4" y="334.85" width="3.8" height="3.8" fill="#000" stroke="#000" stroke-width="0.6"/>
<text x="206.8" y="338.8" font-size="5.7">CD8+ IFNγ+</text>
<rect x="38.2" y="376.3" width="206.5" height="83.9" fill="#fff"/>
<line x1="38.2" y1="376.5" x2="244.7" y2="376.5" stroke="#333" stroke-width="1"/>
<line x1="38.2" y1="389.3" x2="244.7" y2="389.3" stroke="#1a1a1a" stroke-width="1.5"/>
<line x1="38.2" y1="395.69" x2="244.7" y2="395.69" stroke="#555" stroke-width="1.2"/>
<line x1="38.2" y1="402.08" x2="244.7" y2="402.08" stroke="#555" stroke-width="1.2"/>
<line x1="38.2" y1="408.47" x2="244.7" y2="408.47" stroke="#555" stroke-width="1.2"/>
<line x1="38.2" y1="414.86" x2="244.7" y2="414.86" stroke="#555" stroke-width="1.2"/>
<line x1="38.2" y1="421.25" x2="244.7" y2="421.25" stroke="#555" stroke-width="1.2"/>
<line x1="38.2" y1="427.64" x2="244.7" y2="427.64" stroke="#555" stroke-width="1.2"/>
<line x1="38.2" y1="434.03" x2="244.7" y2="434.03" stroke="#555" stroke-width="1.2"/>
<line x1="38.2" y1="440.42" x2="244.7" y2="440.42" stroke="#555" stroke-width="1.2"/>
<line x1="38.2" y1="446.81" x2="244.7" y2="446.81" stroke="#555" stroke-width="1.2"/>
<line x1="38.2" y1="453.2" x2="244.7" y2="453.2" stroke="#1a1a1a" stroke-width="1.6"/>
<line x1="38.2" y1="459.5" x2="244.7" y2="459.5" stroke="#333" stroke-width="1"/>
<line x1="38.5" y1="376.3" x2="38.5" y2="460.2" stroke="#222" stroke-width="1"/>
<line x1="95.5" y1="376.3" x2="95.5" y2="460.2" stroke="#222" stroke-width="1"/>
<line x1="130.5" y1="376.3" x2="130.5" y2="460.2" stroke="#222" stroke-width="1"/>
<line x1="170.5" y1="376.3" x2="170.5" y2="460.2" stroke="#222" stroke-width="1"/>
<line x1="209.5" y1="376.3" x2="209.5" y2="460.2" stroke="#222" stroke-width="1"/>
<line x1="244.5" y1="376.3" x2="244.5" y2="460.2" stroke="#222" stroke-width="1"/>
<text x="67" y="382.3" font-size="5" text-anchor="middle" fill="#333" class="tb">Seropositive subject</text>
<text x="67" y="387.8" font-size="5" text-anchor="middle" fill="#333" class="tb">number</text>
<text x="112.95" y="382.3" font-size="5" text-anchor="middle" fill="#333" class="tb">CD8+</text>
<text x="112.95" y="387.8" font-size="5" text-anchor="middle" fill="#333" class="tb">IFNγ+</text>
<text x="150.05" y="382.3" font-size="5" text-anchor="middle" fill="#333" class="tb">CD4+</text>
<text x="150.05" y="387.8" font-size="5" text-anchor="middle" fill="#333" class="tb">IFNγ+</text>
<text x="189.8" y="382.3" font-size="5" text-anchor="middle" fill="#333" class="tb">γ-δ+</text>
<text x="189.8" y="387.8" font-size="5" text-anchor="middle" fill="#333" class="tb">IFNγ+</text>
<text x="227.15" y="382.3" font-size="5" text-anchor="middle" fill="#333" class="tb">CD56+</text>
<text x="227.15" y="387.8" font-size="5" text-anchor="middle" fill="#333" class="tb">IFNγ+</text>
<text x="67" y="395.19" font-size="5" text-anchor="middle" fill="#333" class="tb">2</text>
<text x="112.95" y="395.19" font-size="5" text-anchor="middle" fill="#333" class="tb">13.3</text>
<text x="150.05" y="395.19" font-size="5" text-anchor="middle" fill="#333" class="tb">4.7</text>
<text x="189.8" y="395.19" font-size="5" text-anchor="middle" fill="#333" class="tb">6.9</text>
<text x="227.15" y="395.19" font-size="5" text-anchor="middle" fill="#333" class="tb">8.8</text>
<text x="67" y="401.58" font-size="5" text-anchor="middle" fill="#333" class="tb">8</text>
<text x="112.95" y="401.58" font-size="5" text-anchor="middle" fill="#333" class="tb">15.9</text>
<text x="150.05" y="401.58" font-size="5" text-anchor="middle" fill="#333" class="tb">22.7</text>
<text x="189.8" y="401.58" font-size="5" text-anchor="middle" fill="#333" class="tb">8.4</text>
<text x="227.15" y="401.58" font-size="5" text-anchor="middle" fill="#333" class="tb">7.3</text>
<text x="67" y="407.97" font-size="5" text-anchor="middle" fill="#333" class="tb">13</text>
<text x="112.95" y="407.97" font-size="5" text-anchor="middle" fill="#333" class="tb">24.1</text>
<text x="150.05" y="407.97" font-size="5" text-anchor="middle" fill="#333" class="tb">13.6</text>
<text x="189.8" y="407.97" font-size="5" text-anchor="middle" fill="#333" class="tb">3.3</text>
<text x="227.15" y="407.97" font-size="5" text-anchor="middle" fill="#333" class="tb">5.1</text>
<text x="67" y="414.36" font-size="5" text-anchor="middle" fill="#333" class="tb">14</text>
<text x="112.95" y="414.36" font-size="5" text-anchor="middle" fill="#333" class="tb">10.3</text>
<text x="150.05" y="414.36" font-size="5" text-anchor="middle" fill="#333" class="tb">49.1</text>
<text x="189.8" y="414.36" font-size="5" text-anchor="middle" fill="#333" class="tb">6.4</text>
<text x="227.15" y="414.36" font-size="5" text-anchor="middle" fill="#333" class="tb">5.6</text>
<text x="67" y="420.75" font-size="5" text-anchor="middle" fill="#333" class="tb">16</text>
<text x="112.95" y="420.75" font-size="5" text-anchor="middle" fill="#333" class="tb">23.1</text>
<text x="150.05" y="420.75" font-size="5" text-anchor="middle" fill="#333" class="tb">13</text>
<text x="189.8" y="420.75" font-size="5" text-anchor="middle" fill="#333" class="tb">5</text>
<text x="227.15" y="420.75" font-size="5" text-anchor="middle" fill="#333" class="tb">3.7</text>
<text x="67" y="427.14" font-size="5" text-anchor="middle" fill="#333" class="tb">17</text>
<text x="112.95" y="427.14" font-size="5" text-anchor="middle" fill="#333" class="tb">29.9</text>
<text x="150.05" y="427.14" font-size="5" text-anchor="middle" fill="#333" class="tb">30.5</text>
<text x="189.8" y="427.14" font-size="5" text-anchor="middle" fill="#333" class="tb">3.3</text>
<text x="227.15" y="427.14" font-size="5" text-anchor="middle" fill="#333" class="tb">10.2</text>
<text x="67" y="433.53" font-size="5" text-anchor="middle" fill="#333" class="tb">18</text>
<text x="112.95" y="433.53" font-size="5" text-anchor="middle" fill="#333" class="tb">11.3</text>
<text x="150.05" y="433.53" font-size="5" text-anchor="middle" fill="#333" class="tb">12</text>
<text x="189.8" y="433.53" font-size="5" text-anchor="middle" fill="#333" class="tb">10.3</text>
<text x="227.15" y="433.53" font-size="5" text-anchor="middle" fill="#333" class="tb">8.1</text>
<text x="67" y="439.92" font-size="5" text-anchor="middle" fill="#333" class="tb">20</text>
<text x="112.95" y="439.92" font-size="5" text-anchor="middle" fill="#333" class="tb">47.6</text>
<text x="150.05" y="439.92" font-size="5" text-anchor="middle" fill="#333" class="tb">20.8</text>
<text x="189.8" y="439.92" font-size="5" text-anchor="middle" fill="#333" class="tb">6.3</text>
<text x="227.15" y="439.92" font-size="5" text-anchor="middle" fill="#333" class="tb">3.4</text>
<text x="67" y="446.31" font-size="5" text-anchor="middle" fill="#333" class="tb">22</text>
<text x="112.95" y="446.31" font-size="5" text-anchor="middle" fill="#333" class="tb">33.3</text>
<text x="150.05" y="446.31" font-size="5" text-anchor="middle" fill="#333" class="tb">13.3</text>
<text x="189.8" y="446.31" font-size="5" text-anchor="middle" fill="#333" class="tb">7</text>
<text x="227.15" y="446.31" font-size="5" text-anchor="middle" fill="#333" class="tb">2.4</text>
<text x="67" y="452.7" font-size="5" text-anchor="middle" fill="#333" class="tb">26</text>
<text x="112.95" y="452.7" font-size="5" text-anchor="middle" fill="#333" class="tb">12.9</text>
<text x="150.05" y="452.7" font-size="5" text-anchor="middle" fill="#333" class="tb">6</text>
<text x="189.8" y="452.7" font-size="5" text-anchor="middle" fill="#333" class="tb">3.6</text>
<text x="227.15" y="452.7" font-size="5" text-anchor="middle" fill="#333" class="tb">0</text>
<text x="67" y="459.3" font-size="5" text-anchor="middle" fill="#333" class="tb">Mean</text>
<text x="112.95" y="459.3" font-size="5" text-anchor="middle" fill="#333" class="tb">22.19</text>
<text x="150.05" y="459.3" font-size="5" text-anchor="middle" fill="#333" class="tb">18.57</text>
<text x="189.8" y="459.3" font-size="5" text-anchor="middle" fill="#333" class="tb">6.05</text>
<text x="227.15" y="459.3" font-size="5" text-anchor="middle" fill="#333" class="tb">5.46</text>
<text x="279.2" y="251.5" font-size="11" font-weight="bold">D</text>
<text x="399.6" y="249.3" font-size="9.74" text-anchor="middle">EBV-seropositive subjects</text>
<rect x="325.7" y="253.3" width="171.3" height="123.7" fill="#fff"/>
<line x1="325.5" y1="252.8" x2="325.5" y2="377" stroke="#777" stroke-width="1"/>
<line x1="325.2" y1="253.5" x2="497" y2="253.5" stroke="#777" stroke-width="1"/>
<line x1="496.5" y1="252.8" x2="496.5" y2="377" stroke="#777" stroke-width="1"/>
<line x1="325.2" y1="376.5" x2="497" y2="376.5" stroke="#777" stroke-width="1"/>
<text x="416.1" y="264.2" font-size="7.35" text-anchor="middle">Distribution of responding cells among</text>
<text x="416.1" y="272.8" font-size="7.35" text-anchor="middle">percent IFNγ producing cells</text>
<line x1="361.7" y1="360.5" x2="364.2" y2="360.5" stroke="#555" stroke-width="1"/>
<text x="360.3" y="361.94" font-size="5.1" text-anchor="end" class="lt">0%</text>
<line x1="364.2" y1="345.5" x2="464.2" y2="345.5" stroke="#8a8a8a" stroke-width="1"/>
<line x1="361.7" y1="345.5" x2="364.2" y2="345.5" stroke="#555" stroke-width="1"/>
<text x="360.3" y="347.38" font-size="5.1" text-anchor="end" class="lt">20%</text>
<line x1="364.2" y1="330.5" x2="464.2" y2="330.5" stroke="#8a8a8a" stroke-width="1"/>
<line x1="361.7" y1="330.5" x2="364.2" y2="330.5" stroke="#555" stroke-width="1"/>
<text x="360.3" y="332.82" font-size="5.1" text-anchor="end" class="lt">40%</text>
<line x1="364.2" y1="316.5" x2="464.2" y2="316.5" stroke="#8a8a8a" stroke-width="1"/>
<line x1="361.7" y1="316.5" x2="364.2" y2="316.5" stroke="#555" stroke-width="1"/>
<text x="360.3" y="318.26" font-size="5.1" text-anchor="end" class="lt">60%</text>
<line x1="364.2" y1="301.5" x2="464.2" y2="301.5" stroke="#8a8a8a" stroke-width="1"/>
<line x1="361.7" y1="301.5" x2="364.2" y2="301.5" stroke="#555" stroke-width="1"/>
<text x="360.3" y="303.7" font-size="5.1" text-anchor="end" class="lt">80%</text>
<line x1="364.2" y1="287.5" x2="464.2" y2="287.5" stroke="#b0b0b0" stroke-width="1"/>
<line x1="361.7" y1="287.5" x2="364.2" y2="287.5" stroke="#555" stroke-width="1"/>
<text x="360.3" y="289.14" font-size="5.1" text-anchor="end" class="lt">100%</text>
<line x1="464.5" y1="287.3" x2="464.5" y2="360.1" stroke="#b0b0b0" stroke-width="1"/>
<rect x="367.35" y="331.15" width="3.7" height="28.95" fill="#000" stroke="#000" stroke-width="0.8"/>
<rect x="367.35" y="321.02" width="3.7" height="10.13" fill="#fff" stroke="#000" stroke-width="0.8"/>
<rect x="367.35" y="306.19" width="3.7" height="14.83" fill="url(#gd)" stroke="#000" stroke-width="0.8"/>
<rect x="367.35" y="287.3" width="3.7" height="18.89" fill="#9a9a9a" stroke="#000" stroke-width="0.8"/>
<rect x="377.35" y="338.77" width="3.7" height="21.33" fill="#000" stroke="#000" stroke-width="0.8"/>
<rect x="377.35" y="308.34" width="3.7" height="30.43" fill="#fff" stroke="#000" stroke-width="0.8"/>
<rect x="377.35" y="297.06" width="3.7" height="11.28" fill="url(#gd)" stroke="#000" stroke-width="0.8"/>
<rect x="377.35" y="287.3" width="3.7" height="9.76" fill="#9a9a9a" stroke="#000" stroke-width="0.8"/>
<rect x="387.35" y="322.03" width="3.7" height="38.07" fill="#000" stroke="#000" stroke-width="0.8"/>
<rect x="387.35" y="300.55" width="3.7" height="21.48" fill="#fff" stroke="#000" stroke-width="0.8"/>
<rect x="387.35" y="295.38" width="3.7" height="5.17" fill="url(#gd)" stroke="#000" stroke-width="0.8"/>
<rect x="387.35" y="287.3" width="3.7" height="8.08" fill="#9a9a9a" stroke="#000" stroke-width="0.8"/>
<rect x="397.35" y="349.62" width="3.7" height="10.48" fill="#000" stroke="#000" stroke-width="0.8"/>
<rect x="397.35" y="299.53" width="3.7" height="50.09" fill="#fff" stroke="#000" stroke-width="0.8"/>
<rect x="397.35" y="292.98" width="3.7" height="6.55" fill="url(#gd)" stroke="#000" stroke-width="0.8"/>
<rect x="397.35" y="287.3" width="3.7" height="5.68" fill="#9a9a9a" stroke="#000" stroke-width="0.8"/>
<rect x="407.35" y="322.54" width="3.7" height="37.56" fill="#000" stroke="#000" stroke-width="0.8"/>
<rect x="407.35" y="301.42" width="3.7" height="21.11" fill="#fff" stroke="#000" stroke-width="0.8"/>
<rect x="407.35" y="293.27" width="3.7" height="8.15" fill="url(#gd)" stroke="#000" stroke-width="0.8"/>
<rect x="407.35" y="287.3" width="3.7" height="5.97" fill="#9a9a9a" stroke="#000" stroke-width="0.8"/>
<rect x="417.35" y="330.65" width="3.7" height="29.45" fill="#000" stroke="#000" stroke-width="0.8"/>
<rect x="417.35" y="300.61" width="3.7" height="30.04" fill="#fff" stroke="#000" stroke-width="0.8"/>
<rect x="417.35" y="297.34" width="3.7" height="3.27" fill="url(#gd)" stroke="#000" stroke-width="0.8"/>
<rect x="417.35" y="287.3" width="3.7" height="10.04" fill="#9a9a9a" stroke="#000" stroke-width="0.8"/>
<rect x="427.35" y="340.37" width="3.7" height="19.73" fill="#000" stroke="#000" stroke-width="0.8"/>
<rect x="427.35" y="319.4" width="3.7" height="20.97" fill="#fff" stroke="#000" stroke-width="0.8"/>
<rect x="427.35" y="301.42" width="3.7" height="17.98" fill="url(#gd)" stroke="#000" stroke-width="0.8"/>
<rect x="427.35" y="287.3" width="3.7" height="14.12" fill="#9a9a9a" stroke="#000" stroke-width="0.8"/>
<rect x="437.35" y="315.65" width="3.7" height="44.45" fill="#000" stroke="#000" stroke-width="0.8"/>
<rect x="437.35" y="296.26" width="3.7" height="19.38" fill="#fff" stroke="#000" stroke-width="0.8"/>
<rect x="437.35" y="290.43" width="3.7" height="5.83" fill="url(#gd)" stroke="#000" stroke-width="0.8"/>
<rect x="437.35" y="287.3" width="3.7" height="3.13" fill="#9a9a9a" stroke="#000" stroke-width="0.8"/>
<rect x="447.35" y="316.83" width="3.7" height="43.27" fill="#000" stroke="#000" stroke-width="0.8"/>
<rect x="447.35" y="299.52" width="3.7" height="17.31" fill="#fff" stroke="#000" stroke-width="0.8"/>
<rect x="447.35" y="290.43" width="3.7" height="9.09" fill="url(#gd)" stroke="#000" stroke-width="0.8"/>
<rect x="447.35" y="287.3" width="3.7" height="3.13" fill="#9a9a9a" stroke="#000" stroke-width="0.8"/>
<rect x="457.35" y="318.39" width="3.7" height="41.71" fill="#000" stroke="#000" stroke-width="0.8"/>
<rect x="457.35" y="298.95" width="3.7" height="19.44" fill="#fff" stroke="#000" stroke-width="0.8"/>
<rect x="457.35" y="287.3" width="3.7" height="11.65" fill="url(#gd)" stroke="#000" stroke-width="0.8"/>
<line x1="364.5" y1="287.3" x2="364.5" y2="362.6" stroke="#555" stroke-width="1"/>
<line x1="364.2" y1="360.5" x2="464.2" y2="360.5" stroke="#555" stroke-width="1"/>
<line x1="364.5" y1="360.1" x2="364.5" y2="362.6" stroke="#555" stroke-width="1"/>
<line x1="374.5" y1="360.1" x2="374.5" y2="362.6" stroke="#555" stroke-width="1"/>
<line x1="384.5" y1="360.1" x2="384.5" y2="362.6" stroke="#555" stroke-width="1"/>
<line x1="394.5" y1="360.1" x2="394.5" y2="362.6" stroke="#555" stroke-width="1"/>
<line x1="404.5" y1="360.1" x2="404.5" y2="362.6" stroke="#555" stroke-width="1"/>
<line x1="414.5" y1="360.1" x2="414.5" y2="362.6" stroke="#555" stroke-width="1"/>
<line x1="424.5" y1="360.1" x2="424.5" y2="362.6" stroke="#555" stroke-width="1"/>
<line x1="434.5" y1="360.1" x2="434.5" y2="362.6" stroke="#555" stroke-width="1"/>
<line x1="444.5" y1="360.1" x2="444.5" y2="362.6" stroke="#555" stroke-width="1"/>
<line x1="454.5" y1="360.1" x2="454.5" y2="362.6" stroke="#555" stroke-width="1"/>
<line x1="464.5" y1="360.1" x2="464.5" y2="362.6" stroke="#555" stroke-width="1"/>
<text x="369.2" y="369.9" font-size="5.8" text-anchor="middle" class="lt">2</text>
<text x="379.2" y="369.9" font-size="5.8" text-anchor="middle" class="lt">8</text>
<text x="389.2" y="369.9" font-size="5.8" text-anchor="middle" class="lt">13</text>
<text x="399.2" y="369.9" font-size="5.8" text-anchor="middle" class="lt">14</text>
<text x="409.2" y="369.9" font-size="5.8" text-anchor="middle" class="lt">16</text>
<text x="419.2" y="369.9" font-size="5.8" text-anchor="middle" class="lt">17</text>
<text x="429.2" y="369.9" font-size="5.8" text-anchor="middle" class="lt">18</text>
<text x="439.2" y="369.9" font-size="5.8" text-anchor="middle" class="lt">20</text>
<text x="449.2" y="369.9" font-size="5.8" text-anchor="middle" class="lt">22</text>
<text x="459.2" y="369.9" font-size="5.8" text-anchor="middle" class="lt">26</text>
<text x="342.8" y="325.4" font-size="7.25" text-anchor="middle" transform="rotate(-90 342.8 325.4)">Percent IFNγ producing cells</text>
<rect x="468.1" y="306.7" width="26.3" height="34.9" fill="#fff" stroke="#444" stroke-width="1"/>
<rect x="470.3" y="309.16" width="3.8" height="3.8" fill="#9a9a9a" stroke="#000" stroke-width="0.6"/>
<text x="475.1" y="313.02" font-size="5.45">CD56+</text>
<rect x="470.3" y="317.89" width="3.8" height="3.8" fill="url(#gd)" stroke="#000" stroke-width="0.6"/>
<text x="475.1" y="321.75" font-size="5.45">γ-δ+</text>
<rect x="470.3" y="326.61" width="3.8" height="3.8" fill="#fff" stroke="#000" stroke-width="0.6"/>
<text x="475.1" y="330.47" font-size="5.45">CD4+</text>
<rect x="470.3" y="335.34" width="3.8" height="3.8" fill="#000" stroke="#000" stroke-width="0.6"/>
<text x="475.1" y="339.2" font-size="5.45">CD8+</text>
<rect x="310.3" y="378.6" width="202.5" height="82.9" fill="#fff"/>
<line x1="310.3" y1="379.5" x2="512.8" y2="379.5" stroke="#333" stroke-width="1"/>
<line x1="310.3" y1="391.5" x2="512.8" y2="391.5" stroke="#1a1a1a" stroke-width="1.5"/>
<line x1="310.3" y1="397.8" x2="512.8" y2="397.8" stroke="#555" stroke-width="1.2"/>
<line x1="310.3" y1="404.1" x2="512.8" y2="404.1" stroke="#555" stroke-width="1.2"/>
<line x1="310.3" y1="410.4" x2="512.8" y2="410.4" stroke="#555" stroke-width="1.2"/>
<line x1="310.3" y1="416.7" x2="512.8" y2="416.7" stroke="#555" stroke-width="1.2"/>
<line x1="310.3" y1="423" x2="512.8" y2="423" stroke="#555" stroke-width="1.2"/>
<line x1="310.3" y1="429.3" x2="512.8" y2="429.3" stroke="#555" stroke-width="1.2"/>
<line x1="310.3" y1="435.6" x2="512.8" y2="435.6" stroke="#555" stroke-width="1.2"/>
<line x1="310.3" y1="441.9" x2="512.8" y2="441.9" stroke="#555" stroke-width="1.2"/>
<line x1="310.3" y1="448.2" x2="512.8" y2="448.2" stroke="#555" stroke-width="1.2"/>
<line x1="310.3" y1="454.5" x2="512.8" y2="454.5" stroke="#1a1a1a" stroke-width="1.6"/>
<line x1="310.3" y1="461.5" x2="512.8" y2="461.5" stroke="#333" stroke-width="1"/>
<line x1="310.5" y1="378.6" x2="310.5" y2="461.5" stroke="#222" stroke-width="1"/>
<line x1="366.5" y1="378.6" x2="366.5" y2="461.5" stroke="#222" stroke-width="1"/>
<line x1="400.5" y1="378.6" x2="400.5" y2="461.5" stroke="#222" stroke-width="1"/>
<line x1="439.5" y1="378.6" x2="439.5" y2="461.5" stroke="#222" stroke-width="1"/>
<line x1="479.5" y1="378.6" x2="479.5" y2="461.5" stroke="#222" stroke-width="1"/>
<line x1="512.5" y1="378.6" x2="512.5" y2="461.5" stroke="#222" stroke-width="1"/>
<text x="338.45" y="383.8" font-size="5" text-anchor="middle" fill="#333" class="tb">Seropositive subject</text>
<text x="338.45" y="389.6" font-size="5" text-anchor="middle" fill="#333" class="tb">number</text>
<text x="383.5" y="389.8" font-size="5" text-anchor="middle" fill="#333" class="tb">CD8+</text>
<text x="419.85" y="389.8" font-size="5" text-anchor="middle" fill="#333" class="tb">CD4+</text>
<text x="459.3" y="389.8" font-size="5" text-anchor="middle" fill="#333" class="tb">γ-δ+</text>
<text x="496.05" y="389.8" font-size="5" text-anchor="middle" fill="#333" class="tb">CD56+</text>
<text x="338.45" y="397.3" font-size="5" text-anchor="middle" fill="#333" class="tb">2</text>
<text x="383.5" y="397.3" font-size="5" text-anchor="middle" fill="#333" class="tb">40</text>
<text x="419.85" y="397.3" font-size="5" text-anchor="middle" fill="#333" class="tb">14</text>
<text x="459.3" y="397.3" font-size="5" text-anchor="middle" fill="#333" class="tb">20.5</text>
<text x="496.05" y="397.3" font-size="5" text-anchor="middle" fill="#333" class="tb">26.1</text>
<text x="338.45" y="403.6" font-size="5" text-anchor="middle" fill="#333" class="tb">8</text>
<text x="383.5" y="403.6" font-size="5" text-anchor="middle" fill="#333" class="tb">29.3</text>
<text x="419.85" y="403.6" font-size="5" text-anchor="middle" fill="#333" class="tb">41.8</text>
<text x="459.3" y="403.6" font-size="5" text-anchor="middle" fill="#333" class="tb">15.5</text>
<text x="496.05" y="403.6" font-size="5" text-anchor="middle" fill="#333" class="tb">13.4</text>
<text x="338.45" y="409.9" font-size="5" text-anchor="middle" fill="#333" class="tb">13</text>
<text x="383.5" y="409.9" font-size="5" text-anchor="middle" fill="#333" class="tb">52.3</text>
<text x="419.85" y="409.9" font-size="5" text-anchor="middle" fill="#333" class="tb">29.5</text>
<text x="459.3" y="409.9" font-size="5" text-anchor="middle" fill="#333" class="tb">7.1</text>
<text x="496.05" y="409.9" font-size="5" text-anchor="middle" fill="#333" class="tb">11.1</text>
<text x="338.45" y="416.2" font-size="5" text-anchor="middle" fill="#333" class="tb">14</text>
<text x="383.5" y="416.2" font-size="5" text-anchor="middle" fill="#333" class="tb">14.4</text>
<text x="419.85" y="416.2" font-size="5" text-anchor="middle" fill="#333" class="tb">68.8</text>
<text x="459.3" y="416.2" font-size="5" text-anchor="middle" fill="#333" class="tb">9</text>
<text x="496.05" y="416.2" font-size="5" text-anchor="middle" fill="#333" class="tb">7.8</text>
<text x="338.45" y="422.5" font-size="5" text-anchor="middle" fill="#333" class="tb">16</text>
<text x="383.5" y="422.5" font-size="5" text-anchor="middle" fill="#333" class="tb">51.6</text>
<text x="419.85" y="422.5" font-size="5" text-anchor="middle" fill="#333" class="tb">29</text>
<text x="459.3" y="422.5" font-size="5" text-anchor="middle" fill="#333" class="tb">11.2</text>
<text x="496.05" y="422.5" font-size="5" text-anchor="middle" fill="#333" class="tb">8.2</text>
<text x="338.45" y="428.8" font-size="5" text-anchor="middle" fill="#333" class="tb">17</text>
<text x="383.5" y="428.8" font-size="5" text-anchor="middle" fill="#333" class="tb">40.5</text>
<text x="419.85" y="428.8" font-size="5" text-anchor="middle" fill="#333" class="tb">41.3</text>
<text x="459.3" y="428.8" font-size="5" text-anchor="middle" fill="#333" class="tb">4.5</text>
<text x="496.05" y="428.8" font-size="5" text-anchor="middle" fill="#333" class="tb">13.8</text>
<text x="338.45" y="435.1" font-size="5" text-anchor="middle" fill="#333" class="tb">18</text>
<text x="383.5" y="435.1" font-size="5" text-anchor="middle" fill="#333" class="tb">27.1</text>
<text x="419.85" y="435.1" font-size="5" text-anchor="middle" fill="#333" class="tb">28.8</text>
<text x="459.3" y="435.1" font-size="5" text-anchor="middle" fill="#333" class="tb">24.7</text>
<text x="496.05" y="435.1" font-size="5" text-anchor="middle" fill="#333" class="tb">19.4</text>
<text x="338.45" y="441.4" font-size="5" text-anchor="middle" fill="#333" class="tb">20</text>
<text x="383.5" y="441.4" font-size="5" text-anchor="middle" fill="#333" class="tb">61</text>
<text x="419.85" y="441.4" font-size="5" text-anchor="middle" fill="#333" class="tb">26.6</text>
<text x="459.3" y="441.4" font-size="5" text-anchor="middle" fill="#333" class="tb">8</text>
<text x="496.05" y="441.4" font-size="5" text-anchor="middle" fill="#333" class="tb">4.3</text>
<text x="338.45" y="447.7" font-size="5" text-anchor="middle" fill="#333" class="tb">22</text>
<text x="383.5" y="447.7" font-size="5" text-anchor="middle" fill="#333" class="tb">59.5</text>
<text x="419.85" y="447.7" font-size="5" text-anchor="middle" fill="#333" class="tb">23.8</text>
<text x="459.3" y="447.7" font-size="5" text-anchor="middle" fill="#333" class="tb">12.5</text>
<text x="496.05" y="447.7" font-size="5" text-anchor="middle" fill="#333" class="tb">4.3</text>
<text x="338.45" y="454" font-size="5" text-anchor="middle" fill="#333" class="tb">26</text>
<text x="383.5" y="454" font-size="5" text-anchor="middle" fill="#333" class="tb">57.3</text>
<text x="419.85" y="454" font-size="5" text-anchor="middle" fill="#333" class="tb">26.7</text>
<text x="459.3" y="454" font-size="5" text-anchor="middle" fill="#333" class="tb">16</text>
<text x="496.05" y="454" font-size="5" text-anchor="middle" fill="#333" class="tb">0</text>
<text x="338.45" y="460.6" font-size="5" text-anchor="middle" fill="#333" class="tb">Mean</text>
<text x="383.5" y="460.6" font-size="5" text-anchor="middle" fill="#333" class="tb">43.3</text>
<text x="419.85" y="460.6" font-size="5" text-anchor="middle" fill="#333" class="tb">33.03</text>
<text x="459.3" y="460.6" font-size="5" text-anchor="middle" fill="#333" class="tb">12.9</text>
<text x="496.05" y="460.6" font-size="5" text-anchor="middle" fill="#333" class="tb">10.84</text>
</svg>
</body></html>
